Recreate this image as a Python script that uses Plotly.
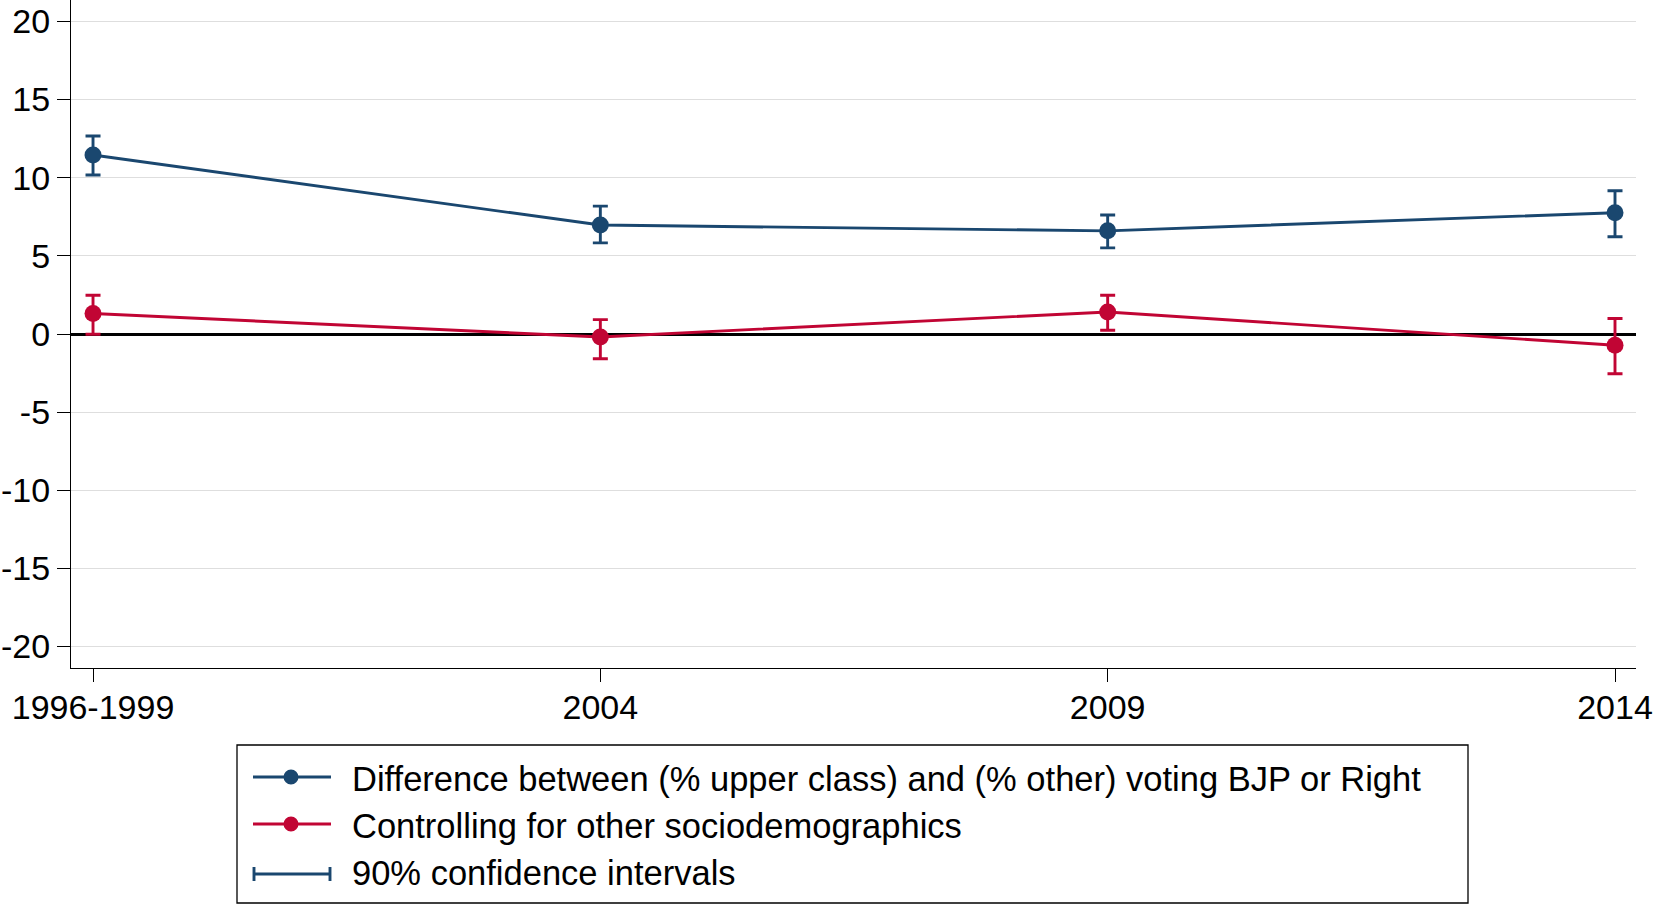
import plotly.graph_objects as go

# ---- data ----
periods = ["1996-1999", "2004", "2009", "2014"]
diff_values = [11.45, 6.97, 6.6, 7.76]
diff_upper = [12.67, 8.18, 7.61, 9.17]
diff_lower = [10.17, 5.83, 5.51, 6.22]
ctrl_values = [1.31, -0.19, 1.41, -0.72]
ctrl_upper = [2.48, 0.92, 2.48, 0.99]
ctrl_lower = [-0.02, -1.58, 0.24, -2.54]
y_ticks = [-20, -15, -10, -5, 0, 5, 10, 15, 20]
legend_labels = [
    "Difference between (% upper class) and (% other) voting BJP or Right",
    "Controlling for other sociodemographics",
    "90% confidence intervals",
]

NAVY = "#1a476f"
RED = "#c10534"
FONT = "Liberation Sans, Arial, sans-serif"

W, H = 1655, 904
ML, MR, MT, MB = 71, 19, 0, 236
PW = W - ML - MR
PH = H - MT - MB

fig = go.Figure()


def add_series(vals, up, lo, color):
    fig.add_trace(go.Scatter(
        x=periods, y=vals, mode="lines+markers",
        line=dict(color=color, width=2.9),
        marker=dict(color=color, size=17, line=dict(width=0)),
        error_y=dict(type="data", symmetric=False,
                     array=[u - v for u, v in zip(up, vals)],
                     arrayminus=[v - l for v, l in zip(vals, lo)],
                     color=color, thickness=2.9, width=7.5),
        showlegend=False, cliponaxis=False,
    ))


add_series(diff_values, diff_upper, diff_lower, NAVY)
add_series(ctrl_values, ctrl_upper, ctrl_lower, RED)


# ---- custom legend (layout decoration in paper coords) ----
def px_x(px):
    return (px - ML) / PW


def px_y(py):
    return (H - MB - py) / PH


shapes = []
annotations = []
shapes.append(dict(type="rect", xref="paper", yref="paper",
                   x0=px_x(237), x1=px_x(1468), y0=px_y(745), y1=px_y(903),
                   line=dict(color="black", width=1.3), fillcolor="white", layer="above"))
rows_y = [777, 824, 874]
text_y = [779, 826, 873]
colors = [NAVY, RED]
for i, c in enumerate(colors):
    shapes.append(dict(type="line", xref="paper", yref="paper",
                       x0=px_x(253), x1=px_x(331), y0=px_y(rows_y[i]), y1=px_y(rows_y[i]),
                       line=dict(color=c, width=2.9), layer="above"))
    r = 7.5
    shapes.append(dict(type="circle", xref="paper", yref="paper",
                       x0=px_x(291 - r), x1=px_x(291 + r),
                       y0=px_y(rows_y[i] + r), y1=px_y(rows_y[i] - r),
                       line=dict(color=c, width=0), fillcolor=c, layer="above"))
yc = rows_y[2]
shapes.append(dict(type="line", xref="paper", yref="paper",
                   x0=px_x(253), x1=px_x(331), y0=px_y(yc), y1=px_y(yc),
                   line=dict(color=NAVY, width=2.9), layer="above"))
for xx in (254, 330):
    shapes.append(dict(type="line", xref="paper", yref="paper",
                       x0=px_x(xx), x1=px_x(xx), y0=px_y(yc - 7), y1=px_y(yc + 7),
                       line=dict(color=NAVY, width=2.9), layer="above"))
for i, lab in enumerate(legend_labels):
    annotations.append(dict(xref="paper", yref="paper", x=px_x(350), y=px_y(text_y[i]),
                            text=lab, showarrow=False, xanchor="left", yanchor="middle",
                            font=dict(size=34.5, color="black", family=FONT)))

fig.update_layout(
    template="none",
    width=W, height=H,
    margin=dict(l=ML, r=MR, t=MT, b=MB, pad=0, autoexpand=False),
    paper_bgcolor="white", plot_bgcolor="white",
    font=dict(family=FONT, color="black", size=34),
    shapes=shapes, annotations=annotations,
    showlegend=False,
)
fig.update_xaxes(
    type="category", range=[-0.0434, 3.0414], automargin=False,
    showgrid=False, showline=True, linecolor="black", linewidth=1.3,
    ticks="outside", ticklen=13, tickwidth=1.3, tickcolor="black",
    tickfont=dict(size=34), zeroline=False, ticklabelstandoff=-4,
)
fig.update_yaxes(
    range=[-21.37, 21.37], tickvals=y_ticks, ticktext=[str(v) for v in y_ticks],
    automargin=False,
    showgrid=True, gridcolor="#dedede", gridwidth=1.3,
    showline=True, linecolor="black", linewidth=1.3,
    ticks="outside", ticklen=13, tickwidth=1.3, tickcolor="black",
    tickfont=dict(size=34),
    zeroline=True, zerolinecolor="black", zerolinewidth=2.8,
)

fig.write_html(
    "out.html",
    config={"displayModeBar": False},
    post_script="document.body.style.margin='0';document.body.style.overflow='hidden';",
)
